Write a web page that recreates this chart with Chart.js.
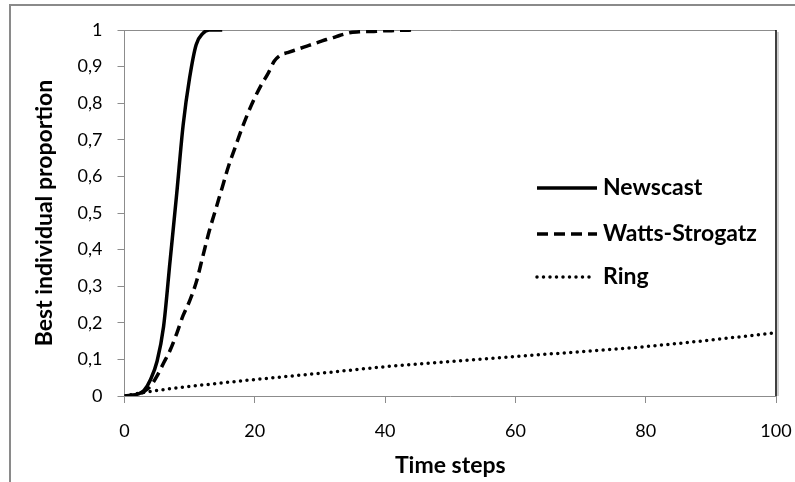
<!DOCTYPE html>
<html>
<head>
<meta charset="utf-8">
<script src="https://cdn.jsdelivr.net/npm/chart.js@4"></script>
<style>
  body { margin: 0; background: #fff; }
  #wrap { width: 795px; height: 482px; }
</style>
</head>
<body>
<div id="wrap"><canvas id="propChart" width="795" height="482"></canvas></div>
<script>
// Proportion of nodes holding the best individual, per topology

const newscastSteps = [0, 1, 2, 3, 4, 5, 6, 7, 8, 9, 10, 11, 12, 13, 14, 15]
const newscastValues = [0, 0.002, 0.005, 0.015, 0.045, 0.095, 0.19, 0.37, 0.55, 0.74, 0.87, 0.96, 0.99, 1, 1, 1]

const wattsSteps = [0, 1, 2, 3, 4, 5, 6, 7, 8, 9, 10, 11, 12, 13, 14, 15, 16, 17, 18, 19, 20, 21, 22,
  23, 24, 25, 26, 27, 28, 29, 30, 31, 32, 33, 34, 35, 36, 37, 38, 39, 40, 41, 42, 43, 44]
const wattsValues = [0, 0, 0.003, 0.012, 0.027, 0.055, 0.09, 0.125, 0.17, 0.22, 0.26, 0.31, 0.38,
  0.45, 0.51, 0.57, 0.63, 0.68, 0.73, 0.775, 0.815, 0.85, 0.88, 0.915, 0.932, 0.938, 0.944, 0.95,
  0.956, 0.962, 0.968, 0.974, 0.979, 0.985, 0.99, 0.994, 0.995, 0.996, 0.996, 0.997, 0.998, 0.998,
  0.999, 0.999, 1]

const ringSteps = [0, 3, 10, 20, 30, 40, 50, 60, 70, 80, 90, 100]
const ringValues = [0, 0.01, 0.026, 0.045, 0.062, 0.08, 0.094, 0.108, 0.121, 0.135, 0.153, 0.173]

const xTicks = [0, 20, 40, 60, 80, 100]
const yTicks = [0, 0.1, 0.2, 0.3, 0.4, 0.5, 0.6, 0.7, 0.8, 0.9, 1]

const FONT = 'Lato, "DejaVu Sans", sans-serif'
const AXIS_GREY = '#8c8c8c'

function toPoints(steps, values) {
  return steps.map((t, i) => ({ x: t, y: values[i] }))
}

// outer frame, plot box edges and the in-plot legend
const framePlugin = {
  id: 'frame',
  beforeDraw(chart) {
    const ctx = chart.ctx
    ctx.save()
    ctx.fillStyle = '#fff'
    ctx.fillRect(0, 0, chart.width, chart.height)
    ctx.strokeStyle = '#8a8a8a'
    ctx.lineWidth = 2
    ctx.beginPath()
    ctx.moveTo(10, chart.height)
    ctx.lineTo(10, 5)
    ctx.lineTo(chart.width, 5)
    ctx.stroke()
    ctx.restore()
  },
  beforeDatasetsDraw(chart) {
    const { ctx, chartArea: a } = chart
    ctx.save()
    ctx.lineWidth = 1
    ctx.strokeStyle = AXIS_GREY
    ctx.beginPath()
    ctx.moveTo(a.left, a.top + 0.5)
    ctx.lineTo(a.right, a.top + 0.5)
    ctx.stroke()
    ctx.strokeStyle = '#d0d0d0'
    ctx.lineWidth = 2
    ctx.beginPath()
    ctx.moveTo(a.right + 2, a.top + 2)
    ctx.lineTo(a.right + 2, a.bottom)
    ctx.stroke()
    ctx.strokeStyle = '#000'
    ctx.lineWidth = 1.5
    ctx.beginPath()
    ctx.moveTo(a.right, a.top)
    ctx.lineTo(a.right, a.bottom)
    ctx.stroke()
    ctx.restore()
  },
  afterDatasetsDraw(chart) {
    const ctx = chart.ctx
    const rowsY = [188, 234, 277]
    const x0 = 537
    const x1 = 597
    ctx.save()
    chart.data.datasets.forEach((ds, i) => {
      const y = rowsY[i]
      ctx.strokeStyle = ds.borderColor
      ctx.lineWidth = ds.borderWidth
      ctx.lineCap = ds.borderCapStyle || 'butt'
      ctx.setLineDash(ds.borderDash || [])
      ctx.beginPath()
      ctx.moveTo(x0, y)
      ctx.lineTo(i === 2 ? x1 - 6 : x1, y)
      ctx.stroke()
      ctx.setLineDash([])
      ctx.fillStyle = '#000'
      ctx.font = 'bold 23px ' + FONT
      ctx.textBaseline = 'middle'
      ctx.fillText(ds.label, 603, y)
    })
    ctx.restore()
  },
}

const config = {
  type: 'line',
  data: {
    datasets: [
      {
        label: 'Newscast',
        data: toPoints(newscastSteps, newscastValues),
        borderColor: '#000',
        borderWidth: 3.5,
        cubicInterpolationMode: 'monotone',
      },
      {
        label: 'Watts-Strogatz',
        data: toPoints(wattsSteps, wattsValues),
        borderColor: '#000',
        borderWidth: 3.5,
        borderDash: [11, 6],
        cubicInterpolationMode: 'monotone',
      },
      {
        label: 'Ring',
        data: toPoints(ringSteps, ringValues),
        borderColor: '#000',
        borderWidth: 3.5,
        borderDash: [0, 6.5],
        borderCapStyle: 'round',
        cubicInterpolationMode: 'monotone',
      },
    ],
  },
  options: {
    responsive: false,
    devicePixelRatio: 1,
    animation: false,
    layout: { padding: { top: 30, right: 19, left: 0, bottom: 0 } },
    elements: { point: { radius: 0 } },
    plugins: { legend: { display: false }, tooltip: { enabled: false } },
    scales: {
      x: {
        type: 'linear',
        min: 0,
        max: 100,
        afterFit(scale) {
          scale.height = 86
          scale.paddingLeft = 0
          scale.paddingRight = 0
        },
        afterBuildTicks(scale) { scale.ticks = xTicks.map(v => ({ value: v })) },
        border: { color: AXIS_GREY, width: 1 },
        grid: { drawOnChartArea: false, tickLength: 7, color: AXIS_GREY },
        ticks: { color: '#000', padding: 17, font: { family: FONT, size: 18 } },
        title: {
          display: true,
          text: 'Time steps',
          color: '#000',
          font: { family: FONT, size: 23, weight: 'bold' },
          padding: { top: 0, bottom: 3 },
        },
      },
      y: {
        min: 0,
        max: 1,
        afterFit(scale) {
          scale.width = 124.5
          scale.paddingTop = 0
          scale.paddingBottom = 0
        },
        afterBuildTicks(scale) { scale.ticks = yTicks.map(v => ({ value: v })) },
        border: { color: AXIS_GREY, width: 1 },
        grid: { drawOnChartArea: false, tickLength: 7, color: AXIS_GREY },
        ticks: {
          color: '#000',
          padding: 15,
          font: { family: FONT, size: 18 },
          callback: v => (v === 0 || v === 1) ? String(v) : v.toFixed(1).replace('.', ','),
        },
        title: {
          display: true,
          text: 'Best individual proportion',
          color: '#000',
          font: { family: FONT, size: 23, weight: 'bold' },
          padding: { top: 31, bottom: 0 },
        },
      },
    },
  },
  plugins: [framePlugin],
}

const myChart = new Chart(document.getElementById('propChart'), config)
</script>
</body>
</html>
